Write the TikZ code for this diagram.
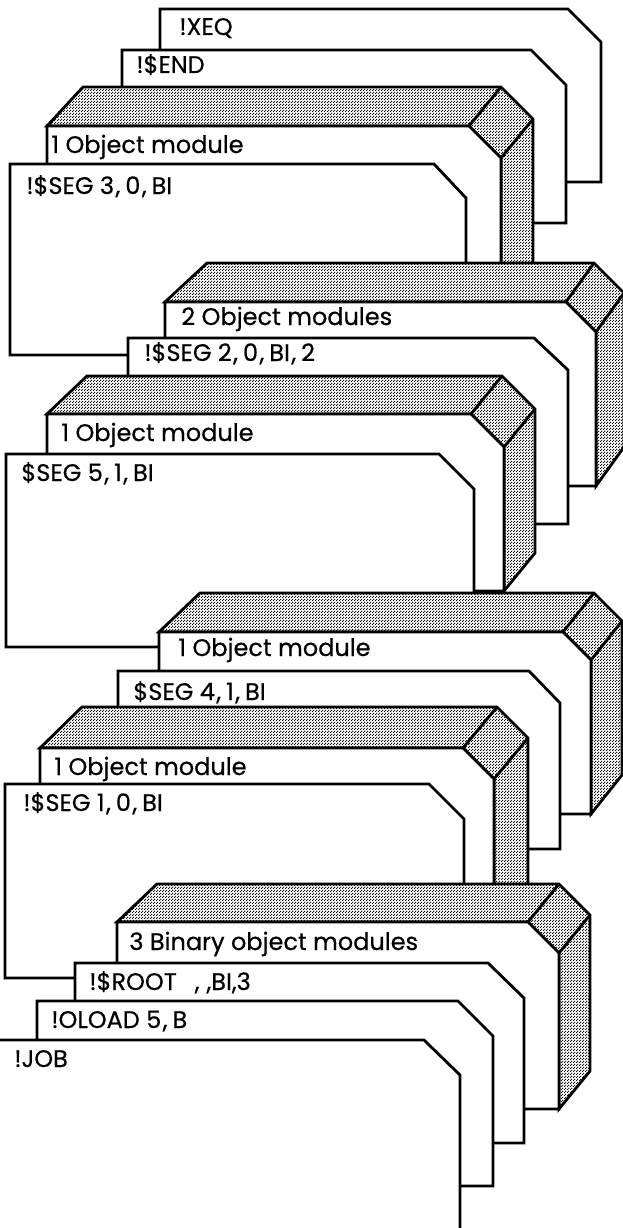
\documentclass[tikz,border=0pt]{standalone}
\usepackage{fontspec}
\setmainfont{Poppins}[FakeBold=0.5]
\usetikzlibrary{patterns.meta}
\tikzdeclarepattern{
  name=stipple, type=uncolored,
  bounding box={(0pt,0pt) and (3pt,3pt)},
  tile size={(3pt,3pt)},
  code={
    \pgfpathcircle{\pgfpoint{0.75pt}{0.75pt}}{0.85pt}
    \pgfpathcircle{\pgfpoint{2.25pt}{2.25pt}}{0.85pt}
    \pgfusepath{fill}
  }
}
% comma with the wide spacing of the original typeface
\newcommand{\cmm}{\kern1.5pt,\kern5pt}
% card: L T C R D B
\newcommand{\cardshape}[6]{%
  \filldraw[cardbox] (#1,#2) -- (#3,#2) -- (#4,#5) -- (#4,#6) -- (#1,#6) -- cycle;
}
% deck: xl yf dl xc c yb ex ey(up)
\newcommand{\deckshape}[8]{%
  \path[deckshade] (#1,#2) -- ({#1+#3},{#2-#8}) -- ({#4+#7},{#2-#8})
     -- ({#4+#5+#7},{#2+#5-#8}) -- ({#4+#5+#7},{#6-#8}) -- ({#4+#5},#6)
     -- ({#4+#5},{#2+#5}) -- (#4,#2) -- cycle;
  \filldraw[cardbox] (#1,#2) -- (#4,#2) -- ({#4+#5},{#2+#5}) -- ({#4+#5},#6) -- (#1,#6) -- cycle;
  \draw (#4,#2) -- ({#4+#7},{#2-#8}) ({#4+#5},{#2+#5}) -- ({#4+#5+#7},{#2+#5-#8});
}
\begin{document}
\begin{tikzpicture}[x=1pt,y=-1pt,line width=2.8pt,line join=miter,
  cardbox/.style={draw=black,fill=white},
  deckshade/.style={draw=black,fill=white,postaction={pattern=stipple,pattern color=black}},
  lbl/.style={anchor=base west,inner sep=0pt,font=\fontsize{24}{24}\selectfont}]
\useasboundingbox (0,0) rectangle (623,1228);
\clip (0,0) rectangle (623,1228);

\cardshape{160}{9}{568}{601}{42}{182}
\cardshape{122}{50}{531}{566}{85}{223}
\deckshape{47}{126}{36}{469}{32}{320}{32}{39}
\cardshape{10}{164}{434}{466}{198}{355}
\deckshape{165}{302}{42}{566}{30}{486}{28}{39}
\cardshape{128}{338}{534}{568}{370}{524}
\deckshape{47}{414}{40}{471}{33}{591}{31}{38}
\cardshape{6}{454}{439}{474}{489}{647}
\deckshape{159}{632}{41}{563}{28}{814}{31}{39}
\cardshape{118}{671}{529}{560}{703}{849}
\deckshape{40}{748}{42}{463}{31}{940}{34}{41}
\cardshape{5}{784}{429}{464}{819}{978}
\deckshape{117}{922}{40}{528}{31}{1109}{31}{38}
\cardshape{75}{963}{488}{524}{998}{1143}
\cardshape{37}{1001}{458}{493}{1036}{1186}
\cardshape{-10}{1040}{424}{460}{1075}{1240}

\node[lbl] (xeq) at (178,35) {!XEQ};
\node[lbl] (end) at (135,73) {!\$END};
\node[lbl] (d1) at (50,153) {1 Object module};
\node[lbl] (s3) at (25,194) {!\$SEG 3\cmm 0\cmm BI};
\node[lbl] (d2) at (180,325) {2 Object modules};
\node[lbl] (s2) at (143,361) {!\$SEG 2\cmm 0\cmm BI\cmm 2};
\node[lbl] (d3) at (60,441) {1 Object module};
\node[lbl] (s5) at (20,481) {\$SEG 5\cmm 1\cmm BI};
\node[lbl] (d4) at (177,656) {1 Object module};
\node[lbl] (s4) at (132,700) {\$SEG 4\cmm 1\cmm BI};
\node[lbl] (d5) at (53,775) {1 Object module};
\node[lbl] (s1) at (22,811) {!\$SEG 1\cmm 0\cmm BI};
\node[lbl] (d6) at (128,950) {3 Binary object modules};
\node[lbl] (root) at (88,990) {!\$ROOT\hspace{18pt},\hspace{7pt},BI,3};
\node[lbl] (oload) at (50,1028) {!OLOAD 5\cmm B};
\node[lbl] (job) at (13,1067) {!JOB};
\end{tikzpicture}
\end{document}
